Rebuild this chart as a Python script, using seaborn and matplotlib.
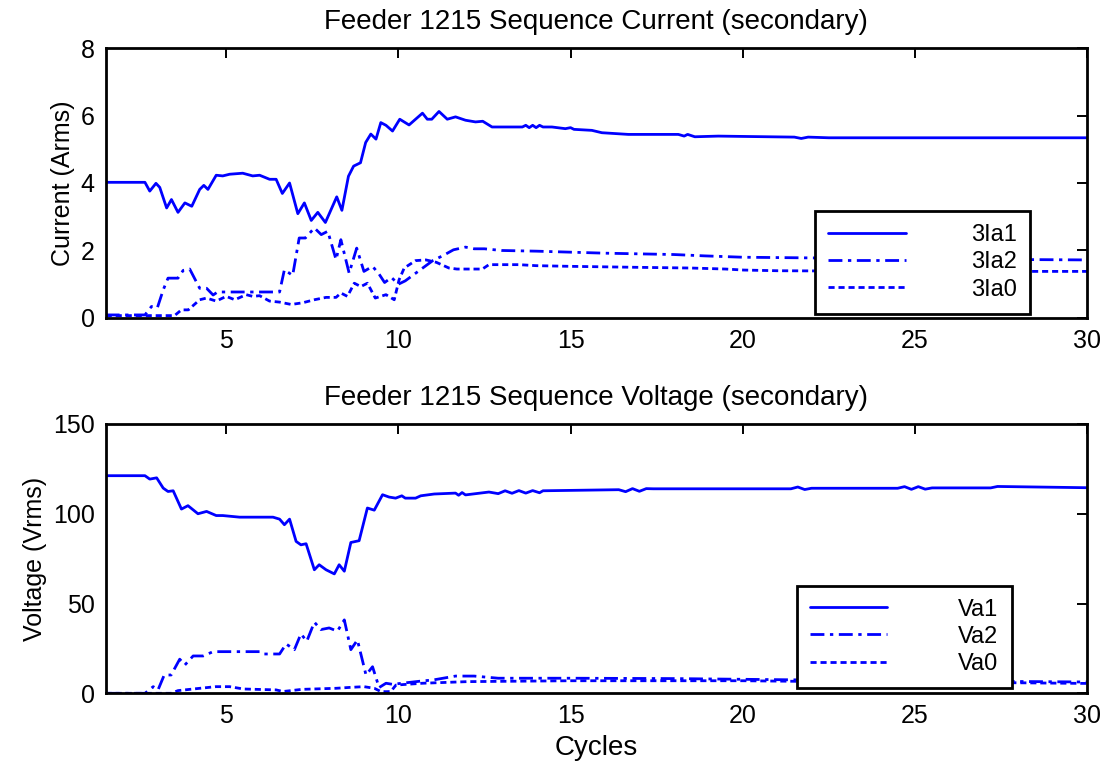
import numpy as np
import pandas as pd
import matplotlib
matplotlib.use("Agg")
import matplotlib.pyplot as plt
import seaborn as sns

# ---------------- data ----------------
# Top panel: sequence currents (A rms, secondary)
ia1_x = [1.5, 2.64, 2.78, 2.96, 3.07, 3.27, 3.41, 3.6, 3.8, 4.0, 4.23, 4.35, 4.47, 4.71, 4.9,
         5.1, 5.48, 5.77, 5.97, 6.26, 6.45, 6.63, 6.84, 7.08, 7.27, 7.47, 7.66, 7.88, 8.21, 8.36,
         8.55, 8.7, 8.9, 9.05, 9.2, 9.35, 9.49, 9.64, 9.83, 10.04, 10.31, 10.7, 10.84, 10.97, 11.18,
         11.42, 11.66, 11.95, 12.24, 12.45, 12.72, 13.01, 13.6, 13.7, 13.8, 13.9, 14.0, 14.1, 14.2,
         14.46, 14.85, 15.0, 15.1, 15.62, 15.91, 16.68, 18.13, 18.3, 18.4, 18.61, 19.29, 20.0,
         21.5, 21.7, 21.9, 22.5, 30.0]
ia1_y = [4.02, 4.02, 3.76, 3.99, 3.87, 3.26, 3.51, 3.13, 3.41, 3.31, 3.81, 3.93, 3.81, 4.23, 4.21,
         4.26, 4.29, 4.21, 4.23, 4.11, 4.11, 3.69, 4.0, 3.09, 3.41, 2.89, 3.13, 2.83, 3.59, 3.19,
         4.2, 4.5, 4.6, 5.2, 5.45, 5.3, 5.79, 5.71, 5.54, 5.89, 5.72, 6.07, 5.89, 5.89, 6.12,
         5.89, 5.96, 5.86, 5.81, 5.83, 5.66, 5.66, 5.66, 5.71, 5.64, 5.71, 5.64, 5.71, 5.66,
         5.66, 5.61, 5.64, 5.59, 5.56, 5.49, 5.44, 5.44, 5.39, 5.44, 5.37, 5.39, 5.38,
         5.36, 5.32, 5.36, 5.34, 5.34]

ia2_x = [1.5, 2.64, 2.83, 3.0, 3.17, 3.31, 3.6, 3.75, 3.94, 4.23, 4.43, 4.62, 4.75, 6.55, 6.69,
         6.93, 7.12, 7.3, 7.56, 7.76, 7.95, 8.19, 8.33, 8.57, 8.79, 9.0, 9.25, 9.44, 9.6, 9.8,
         10.0, 10.2, 10.4, 10.6, 10.8, 11.0, 11.3, 11.6, 11.95, 12.2, 12.5, 13.0, 14.0, 15.0,
         16.0, 17.0, 18.0, 18.9, 20.0, 22.0, 25.0, 30.0]
ia2_y = [0.09, 0.09, 0.34, 0.30, 0.83, 1.18, 1.18, 1.41, 1.45, 0.88, 0.88, 0.68, 0.77, 0.77, 1.43,
         1.26, 2.37, 2.37, 2.67, 2.47, 2.57, 1.73, 2.32, 1.33, 2.07, 1.38, 1.53, 1.3, 1.05, 1.2,
         1.0, 1.1, 1.25, 1.4, 1.55, 1.7, 1.85, 2.02, 2.1, 2.05, 2.05, 2.0, 1.98, 1.95,
         1.92, 1.9, 1.88, 1.84, 1.8, 1.78, 1.75, 1.72]

ia0_x = [1.5, 3.5, 3.7, 3.9, 4.23, 4.43, 4.71, 5.0, 5.25, 5.58, 5.77, 5.97, 6.26, 6.55, 6.89,
         7.22, 7.56, 7.9, 8.19, 8.33, 8.52, 8.72, 8.91, 9.1, 9.33, 9.64, 9.88, 10.02, 10.17, 10.5,
         10.8, 11.1, 11.47, 11.7, 12.44, 12.63, 13.5, 14.0, 15.0, 17.0, 18.5, 19.5, 20.03, 21.0,
         25.0, 30.0]
ia0_y = [0.07, 0.07, 0.24, 0.24, 0.54, 0.59, 0.5, 0.64, 0.54, 0.69, 0.64, 0.66, 0.5, 0.47, 0.4,
         0.45, 0.54, 0.61, 0.61, 0.74, 0.64, 1.03, 0.93, 1.03, 0.59, 0.69, 0.54, 1.13, 1.48, 1.7,
         1.72, 1.65, 1.48, 1.45, 1.45, 1.58, 1.58, 1.55, 1.53, 1.5, 1.48, 1.45, 1.42, 1.4,
         1.38, 1.38]

# Bottom panel: sequence voltages (V rms, secondary)
va1_x = [1.5, 2.64, 2.78, 2.98, 3.17, 3.31, 3.46, 3.7, 3.89, 4.18, 4.43, 4.71, 4.9, 5.39, 6.36,
         6.55, 6.69, 6.84, 7.03, 7.17, 7.32, 7.56, 7.7, 7.9, 8.14, 8.28, 8.43, 8.62, 8.86, 9.1,
         9.3, 9.54, 9.73, 9.92, 10.1, 10.2, 10.5, 10.65, 11.04, 11.66, 11.75, 11.85, 11.95, 12.63,
         12.9, 13.1, 13.3, 13.5, 13.7, 13.9, 14.1, 14.2, 16.4, 16.6, 16.8, 17.0, 17.2, 17.4,
         21.4, 21.6, 21.8, 22.0, 24.5, 24.7, 24.9, 25.1, 25.3, 25.5, 27.2, 27.4, 30.0]
va1_y = [121.2, 121.2, 119.3, 120.0, 114.3, 112.4, 112.8, 102.6, 104.5, 100.0, 101.3, 99.0, 99.0, 98.1, 98.1,
         97.0, 93.9, 97.0, 84.6, 82.7, 83.3, 68.8, 71.6, 68.8, 66.5, 71.6, 68.0, 84.0, 85.0, 103.2,
         102.0, 110.6, 109.3, 108.7, 110.0, 108.7, 108.7, 110.0, 111.0, 111.5, 110.3, 111.8, 110.5, 112.1,
         111.2, 112.8, 111.4, 112.9, 111.5, 112.9, 111.7, 112.8, 113.4, 112.3, 114.0, 112.5, 114.0, 113.9,
         113.9, 114.9, 113.5, 114.2, 114.2, 115.1, 113.6, 115.1, 113.7, 114.4, 114.4, 115.2, 114.5]

va2_x = [1.5, 2.64, 2.88, 3.02, 3.2, 3.4, 3.65, 3.8, 4.04, 4.33, 4.62, 5.97, 6.07, 6.55, 6.74,
         6.98, 7.17, 7.34, 7.56, 7.75, 7.99, 8.23, 8.43, 8.62, 8.81, 9.06, 9.25, 9.44, 9.64, 9.83,
         10.7, 11.0, 11.66, 12.2, 12.9, 15.0, 18.0, 21.5, 25.0, 30.0]
va2_y = [0.0, 0.0, 3.7, 1.9, 10.2, 10.2, 19.0, 15.8, 20.8, 20.8, 23.2, 23.2, 21.9, 21.9, 27.5,
         24.3, 33.1, 29.0, 39.6, 35.5, 36.4, 34.6, 40.9, 24.3, 29.7, 10.2, 14.8, 3.2, 5.6, 5.0,
         6.9, 7.4, 9.6, 9.6, 8.4, 8.4, 8.2, 7.5, 7.0, 6.3]

va0_x = [1.5, 3.4, 3.6, 4.04, 4.7, 5.1, 5.5, 6.45, 6.65, 7.2, 8.2, 8.6, 9.0, 9.3, 9.49, 9.64,
         9.78, 9.93, 10.7, 12.0, 15.0, 20.0, 22.0, 25.0, 30.0]
va0_y = [0.0, 0.0, 1.5, 2.4, 3.7, 3.7, 2.4, 1.9, 1.0, 2.2, 2.8, 3.3, 3.7, 2.8, 1.0, 0.9,
         1.0, 4.6, 5.6, 6.5, 7.0, 7.0, 6.6, 6.4, 5.5]

top_labels = ["3Ia1", "3Ia2", "3Ia0"]
bot_labels = ["Va1", "Va2", "Va0"]
x_ticks = [5, 10, 15, 20, 25, 30]
top_yticks = [0, 2, 4, 6, 8]
bot_yticks = [0, 50, 100, 150]

# ---------------- styling ----------------
sns.set_style("white")
plt.rcParams["font.family"] = ["Liberation Sans", "DejaVu Sans"]
plt.rcParams["text.color"] = "black"
plt.rcParams["axes.labelcolor"] = "black"
plt.rcParams["xtick.color"] = "black"
plt.rcParams["ytick.color"] = "black"

BLUE = "#0000ff"
styles = ["-", (0, (5, 2.0, 1.2, 2.0)), (0, (2.2, 1.4))]

fig = plt.figure(figsize=(11.09, 7.66), dpi=100)
ax1 = fig.add_axes([0.0953, 0.5849, 0.8849, 0.3524])
ax2 = fig.add_axes([0.0953, 0.0949, 0.8849, 0.3516])


def draw(ax, series, labels):
    for (xs, ys), lab, ls in zip(series, labels, styles):
        df = pd.DataFrame({"x": xs, "y": ys})
        sns.lineplot(data=df, x="x", y="y", ax=ax, color=BLUE, linewidth=2.0,
                     linestyle=ls, label=lab, estimator=None, sort=True)


draw(ax1, [(ia1_x, ia1_y), (ia2_x, ia2_y), (ia0_x, ia0_y)], top_labels)
draw(ax2, [(va1_x, va1_y), (va2_x, va2_y), (va0_x, va0_y)], bot_labels)

for ax, yt, ylim in [(ax1, top_yticks, (0, 8)), (ax2, bot_yticks, (0, 150))]:
    ax.set_xlim(1.5, 30)
    ax.set_ylim(*ylim)
    ax.set_xticks(x_ticks)
    ax.set_yticks(yt)
    ax.tick_params(direction="in", length=7, width=1.4, top=True, right=True,
                   labelsize=18, pad=8, colors="black", labelcolor="black")
    for sp in ax.spines.values():
        sp.set_visible(True)
        sp.set_color("black")
        sp.set_linewidth(2.0)

ax1.set_title("Feeder 1215 Sequence Current (secondary)", fontsize=20, pad=14, color="black")
ax2.set_title("Feeder 1215 Sequence Voltage (secondary)", fontsize=20, pad=14, color="black")
ax1.set_ylabel("Current (Arms)", fontsize=18, labelpad=4)
ax2.set_ylabel("Voltage (Vrms)", fontsize=18, labelpad=4)
ax1.set_xlabel("")
ax2.set_xlabel("Cycles", fontsize=20, labelpad=5)

for ax, loc, tpad in [(ax1, (0.723, 0.016), 2.75), (ax2, (0.704, 0.02), 3.0)]:
    leg = ax.legend(loc="lower left", bbox_to_anchor=loc, fontsize=17, frameon=True,
                    fancybox=False, shadow=False, handlelength=3.3, handletextpad=tpad,
                    borderpad=0.55, labelspacing=0.22, borderaxespad=0)
    fr = leg.get_frame()
    fr.set_edgecolor("black")
    fr.set_linewidth(2.0)
    fr.set_facecolor("white")
    fr.set_alpha(1)
    for t in leg.get_texts():
        t.set_color("black")

fig.savefig("out.png", dpi=100, facecolor="white")
